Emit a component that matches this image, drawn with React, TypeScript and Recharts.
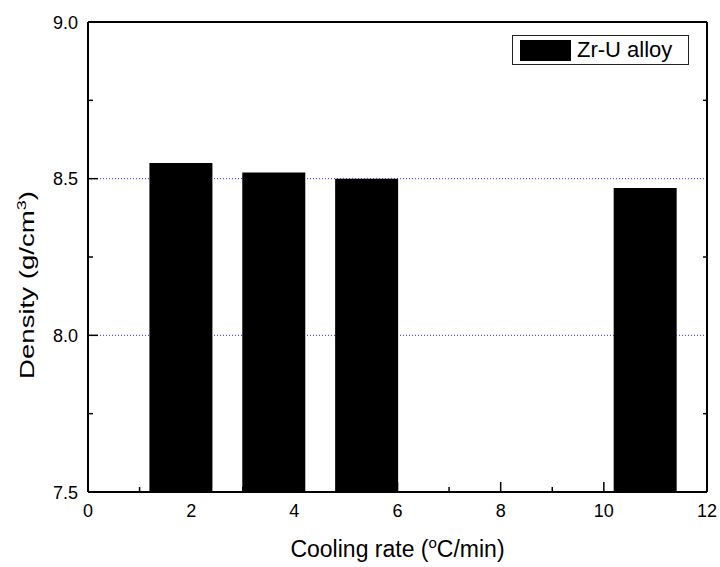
import React from "react";
import { ComposedChart, Bar, XAxis, YAxis, CartesianGrid, Legend } from "recharts";

const coolingRates = [1.8, 3.6, 5.4, 10.8];
const densities = [8.55, 8.52, 8.5, 8.47];
const xTicks = [0, 1, 2, 3, 4, 5, 6, 7, 8, 9, 10, 11, 12];
const yTicks = [7.5, 7.75, 8, 8.25, 8.5, 8.75, 9];
const gridValues = [8, 8.5];
const seriesName = "Zr-U alloy";

const data = coolingRates.map((rate, i) => ({ rate, density: densities[i] }));

const FONT = "'Liberation Sans', Arial, sans-serif";

const isMajorY = (v: number) => Math.abs(v * 2 - Math.round(v * 2)) < 1e-6;

function LeftTick(props: any) {
    const { x, y, payload } = props;
    const v = payload.value;
    const major = isMajorY(v);
    return (
        <g>
            <line x1={x} x2={x + (major ? 10 : 5)} y1={y} y2={y} stroke="#000" strokeWidth={1.5} />
            {major && (
                <text x={x - 10} y={y} dy={6.5} textAnchor="end" fontSize={18} fill="#000" fontFamily={FONT}>
                    {v.toFixed(1)}
                </text>
            )}
        </g>
    );
}

function RightTick(props: any) {
    const { x, y, payload } = props;
    if (isMajorY(payload.value)) return <g />;
    return <line x1={x} x2={x - 4} y1={y} y2={y} stroke="#000" strokeWidth={1.5} />;
}

function BottomTick(props: any) {
    const { x, y, payload } = props;
    const v = payload.value;
    const major = v % 2 === 0;
    return (
        <g>
            <line x1={x} x2={x} y1={y} y2={y - (major ? 10 : 5)} stroke="#000" strokeWidth={1.5} />
            {major && (
                <text x={x} y={y + 25} textAnchor="middle" fontSize={18} fill="#000" fontFamily={FONT}>
                    {v}
                </text>
            )}
        </g>
    );
}

function XTitle(props: any) {
    const { viewBox } = props;
    const cx = viewBox.x + viewBox.width / 2;
    const cy = viewBox.y + 65;
    return (
        <text x={cx} y={cy} textAnchor="middle" fontSize={23} fill="#000" fontFamily={FONT}>
            Cooling rate (<tspan dy={-9} fontSize={15}>o</tspan>
            <tspan dy={9}>C/min)</tspan>
        </text>
    );
}

function YTitle(props: any) {
    const { viewBox } = props;
    const cx = viewBox.x + 26;
    const cy = viewBox.y + viewBox.height / 2 + 28;
    // the source stretches this title along its length
    return (
        <g transform={`translate(${cx}, ${cy}) rotate(-90) scale(1.38, 1)`}>
            <text x={0} y={0} textAnchor="middle" fontSize={20} fill="#000" fontFamily={FONT}>
                Density (g/cm<tspan dy={-8} fontSize={13}>3</tspan>
                <tspan dy={8}>)</tspan>
            </text>
        </g>
    );
}

function LegendBox() {
    return (
        <div
            style={{
                boxSizing: "border-box",
                width: 177,
                height: 30,
                border: "1px solid #222",
                display: "flex",
                alignItems: "center",
                fontFamily: FONT,
                fontSize: 22,
                lineHeight: 1,
                color: "#000",
                background: "#fff",
            }}
        >
            <div style={{ width: 51, height: 21, background: "#000", marginLeft: 7 }} />
            <span style={{ marginLeft: 6 }}>{seriesName}</span>
        </div>
    );
}

export default function App() {
    const axisLine = { stroke: "#000", strokeWidth: 2 };
    return (
        <div style={{ position: "absolute", left: 0, top: 0, width: 720, height: 567, background: "#fff", fontFamily: FONT }}>
            <ComposedChart width={720} height={567} data={data} margin={{ top: 21, right: 12, bottom: 30, left: 8 }}>
                <CartesianGrid
                    vertical={false}
                    horizontalValues={gridValues}
                    stroke="#3030ff"
                    strokeDasharray="1 2"
                />
                <XAxis
                    dataKey="rate"
                    type="number"
                    domain={[0, 12]}
                    ticks={xTicks}
                    interval={0}
                    allowDataOverflow
                    height={45}
                    tickSize={0}
                    tickMargin={0}
                    axisLine={axisLine}
                    tickLine={false}
                    tick={BottomTick}
                    label={<XTitle />}
                />
                <XAxis
                    xAxisId="top"
                    orientation="top"
                    type="number"
                    domain={[0, 12]}
                    allowDataOverflow
                    height={1}
                    tick={false}
                    tickLine={false}
                    axisLine={axisLine}
                />
                <YAxis
                    type="number"
                    domain={[7.5, 9]}
                    ticks={yTicks}
                    interval={0}
                    allowDataOverflow
                    width={80}
                    tickSize={0}
                    tickMargin={0}
                    axisLine={axisLine}
                    tickLine={false}
                    tick={LeftTick}
                    label={<YTitle />}
                />
                <YAxis
                    yAxisId="right"
                    orientation="right"
                    type="number"
                    domain={[7.5, 9]}
                    ticks={yTicks}
                    interval={0}
                    allowDataOverflow
                    width={1}
                    tickSize={0}
                    tickMargin={0}
                    axisLine={axisLine}
                    tickLine={false}
                    tick={RightTick}
                />
                <Legend
                    layout="horizontal"
                    verticalAlign="middle"
                    align="center"
                    wrapperStyle={{ top: 35, left: 512, width: 177, height: 30 }}
                    content={() => <LegendBox />}
                />
                <Bar dataKey="density" name={seriesName} fill="#000" barSize={63} isAnimationActive={false} />
            </ComposedChart>
        </div>
    );
}
